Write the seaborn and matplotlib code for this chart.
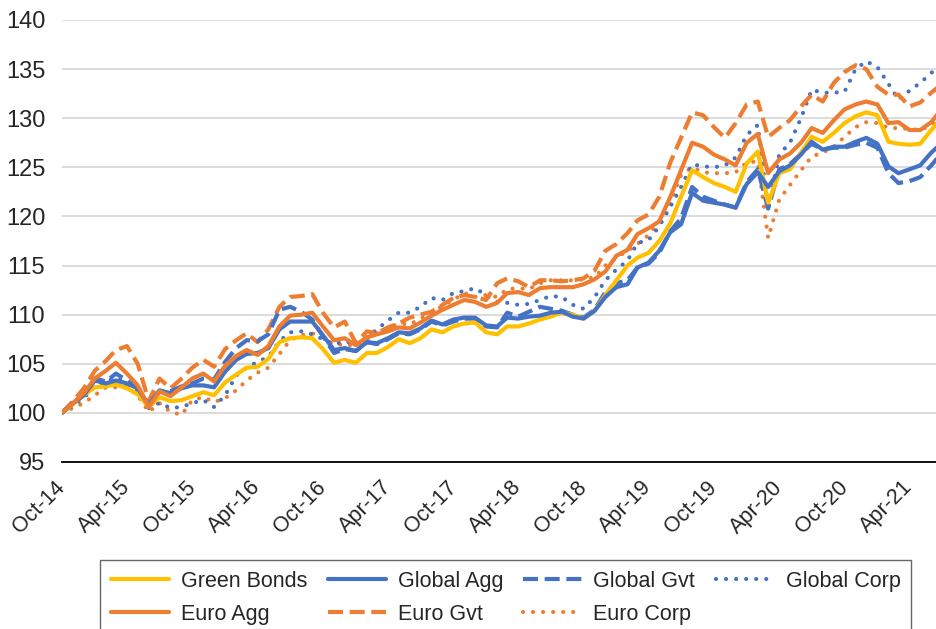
import matplotlib
matplotlib.use("Agg")
import matplotlib.pyplot as plt
import matplotlib.dates as mdates
import pandas as pd
import seaborn as sns

# monthly index levels, Oct-14 = 100
start_month = "2014-10-01"

green_bonds = [100.0, 100.9, 101.8, 102.6, 102.7, 102.9, 102.5, 101.9, 100.6, 101.6,
               101.2, 101.3, 101.7, 102.1, 101.8, 103.1, 103.9, 104.6, 104.7, 105.5,
               107.2, 107.6, 107.7, 107.6, 106.5, 105.1, 105.4, 105.1, 106.1, 106.1,
               106.7, 107.5, 107.1, 107.6, 108.5, 108.2, 108.8, 109.1, 109.2, 108.2,
               108.0, 108.8, 108.8, 109.1, 109.5, 109.8, 110.2, 110.0, 109.6, 110.4,
               112.0, 113.5, 115.0, 115.8, 116.3, 117.5, 119.3, 122.0, 124.7, 124.0,
               123.4, 123.0, 122.5, 125.4, 126.6, 121.4, 124.4, 124.8, 126.5, 128.1,
               127.6, 128.5, 129.5, 130.2, 130.6, 130.3, 127.6, 127.4, 127.3, 127.4,
               128.8, 130.0]

global_agg = [100.0, 101.0, 101.8, 103.3, 103.0, 103.3, 103.0, 102.5, 100.8, 102.3,
              102.0, 102.5, 102.8, 102.8, 102.6, 104.2, 105.4, 106.0, 106.1, 106.6,
              108.5, 109.3, 109.3, 109.3, 107.9, 106.4, 106.6, 106.3, 107.2, 107.1,
              107.6, 108.2, 108.1, 108.6, 109.4, 109.0, 109.5, 109.7, 109.7, 108.9,
              108.8, 109.7, 109.6, 109.8, 109.9, 110.2, 110.3, 109.8, 109.6, 110.4,
              111.8, 112.8, 113.1, 114.8, 115.3, 116.5, 118.4, 119.2, 122.4, 121.6,
              121.4, 121.2, 120.9, 123.3, 124.5, 123.0, 124.6, 125.2, 126.3, 127.6,
              126.8, 127.1, 127.1, 127.6, 128.0, 127.4, 125.1, 124.4, 124.8, 125.2,
              126.5, 127.5]

global_gvt = [100.0, 101.0, 101.8, 103.5, 103.2, 104.0, 103.3, 102.6, 100.5, 102.2,
              102.2, 102.7, 103.0, 103.5, 103.4, 105.2, 106.6, 107.4, 107.3, 108.0,
              110.5, 110.8, 110.3, 109.5, 107.8, 106.1, 106.5, 106.3, 107.2, 107.0,
              107.5, 108.1, 108.0, 108.5, 109.3, 108.9, 109.3, 109.6, 109.6, 108.8,
              108.7, 110.2, 109.8, 110.3, 110.8, 110.6, 110.4, 110.0, 109.7, 110.5,
              112.3, 113.2, 113.5, 114.8, 115.2, 116.3, 118.5, 119.8, 123.0, 122.0,
              121.6, 121.2, 120.9, 123.5, 124.8, 120.8, 124.8, 125.3, 126.4, 127.4,
              126.8, 127.0, 127.0, 127.3, 127.5, 127.0, 124.4, 123.4, 123.6, 124.0,
              125.2, 126.5]

global_corp = [100.0, 100.8, 101.5, 102.8, 103.2, 103.6, 103.0, 102.2, 100.6, 101.0,
               100.5, 100.6, 101.0, 101.3, 100.6, 101.8, 103.8, 104.6, 105.2, 105.7,
               107.3, 108.2, 108.3, 108.0, 107.5, 107.0, 107.3, 107.0, 107.7, 108.5,
               109.4, 110.2, 110.2, 110.8, 111.7, 111.5, 112.2, 112.4, 112.7, 112.0,
               111.3, 111.2, 111.0, 111.1, 111.5, 111.9, 111.8, 111.0, 110.6, 111.8,
               113.5, 114.6, 115.5, 117.3, 117.6, 119.0, 121.0, 123.0, 125.3, 125.1,
               125.0, 125.2, 126.0, 128.3, 129.3, 120.7, 126.3, 127.5, 130.0, 132.9,
               132.6, 132.6, 132.7, 135.0, 135.8, 135.2, 133.5, 131.9, 132.8, 133.6,
               134.6, 135.8]

euro_agg = [100.0, 101.0, 102.0, 103.5, 104.3, 105.1, 104.0, 102.8, 100.6, 102.2,
            101.7, 102.6, 103.5, 104.0, 103.2, 104.8, 105.8, 106.4, 105.9, 106.8,
            108.8, 109.9, 110.0, 110.2, 108.8, 107.4, 107.6, 106.9, 107.7, 108.0,
            108.3, 108.7, 108.6, 109.2, 109.9, 110.5, 111.0, 111.5, 111.3, 110.8,
            111.2, 112.2, 112.3, 112.0, 112.7, 112.8, 112.8, 112.8, 113.1, 113.6,
            114.4, 116.0, 116.6, 118.2, 118.8, 119.5, 122.0, 124.7, 127.5, 127.1,
            126.3, 125.8, 125.2, 127.5, 128.4, 124.4, 125.8, 126.4, 127.5, 129.0,
            128.5, 129.8, 130.9, 131.4, 131.7, 131.4, 129.5, 129.6, 128.8, 128.8,
            129.6, 131.0]

euro_gvt = [100.0, 101.2, 102.5, 104.3, 105.3, 106.4, 106.8, 105.0, 101.2, 103.5,
            102.5, 103.5, 104.6, 105.4, 104.7, 106.5, 107.4, 108.1, 107.2, 108.5,
            110.8, 111.8, 111.9, 112.1, 110.2, 108.7, 109.3, 107.1, 108.3, 108.1,
            108.7, 109.1, 109.7, 110.0, 110.3, 111.0, 111.7, 112.0, 111.8, 111.5,
            113.2, 113.7, 113.4, 112.8, 113.5, 113.5, 113.4, 113.5, 113.7, 114.5,
            116.5, 117.2, 118.3, 119.6, 120.2, 122.0, 125.5, 128.0, 130.6, 130.3,
            129.1, 128.0, 129.5, 131.4, 131.7, 128.1, 129.0, 129.8, 131.2, 132.4,
            131.7, 133.6, 134.7, 135.4, 135.0, 133.2, 132.4, 132.4, 131.2, 131.6,
            132.6, 133.5]

euro_corp = [100.0, 100.5, 101.0, 101.8, 102.6, 102.6, 102.7, 101.8, 100.1, 101.0,
             100.1, 99.8, 101.3, 101.6, 101.1, 101.5, 102.3, 103.3, 104.1, 104.6,
             106.0, 107.4, 107.9, 108.1, 107.7, 106.9, 107.0, 106.8, 107.5, 108.2,
             108.6, 109.1, 109.0, 109.6, 110.2, 110.9, 111.5, 112.2, 111.8, 112.0,
             111.8, 112.6, 112.7, 112.6, 113.2, 113.5, 113.5, 113.5, 113.6, 113.8,
             115.0, 115.8, 116.5, 117.2, 118.1, 119.5, 121.5, 124.2, 125.0, 124.5,
             124.4, 124.4, 124.5, 125.5, 125.6, 117.8, 121.7, 123.2, 124.7, 126.1,
             126.5, 127.1, 128.1, 129.1, 129.6, 129.5, 129.0, 129.0, 128.9, 128.8,
             129.3, 130.0]

dates = pd.date_range(start_month, periods=len(green_bonds), freq="MS")
df = pd.DataFrame({
    "Green Bonds": green_bonds,
    "Global Agg": global_agg,
    "Global Gvt": global_gvt,
    "Global Corp": global_corp,
    "Euro Agg": euro_agg,
    "Euro Gvt": euro_gvt,
    "Euro Corp": euro_corp,
}, index=dates)

yellow = "#FFC000"
blue = "#4472C4"
orange = "#ED7D31"

# name, colour, style  (drawing order: back to front)
styles = [
    ("Euro Corp", orange, "dot"),
    ("Global Corp", blue, "dot"),
    ("Euro Gvt", orange, "dash"),
    ("Global Gvt", blue, "dash"),
    ("Green Bonds", yellow, "solid"),
    ("Global Agg", blue, "solid"),
    ("Euro Agg", orange, "solid"),
]

sns.set_style("white")
plt.rcParams["font.family"] = ["Liberation Sans", "DejaVu Sans"]

fig = plt.figure(figsize=(9.37, 6.29), dpi=100)
ax = fig.add_axes([62 / 937, 1 - 462 / 629, 1 - 62 / 937, (462 - 20) / 629])

handles = {}
for name, color, kind in styles:
    sns.lineplot(x=df.index, y=df[name], ax=ax, color=color, linewidth=3, label=name)
    line = ax.get_lines()[-1]
    if kind == "dash":
        line.set_dashes((3.6, 1.6))
    elif kind == "dot":
        line.set_dashes((0.01, 2.4))
        line.set_dash_capstyle("round")
    handles[name] = line

ax.set_xlim(dates[0], dates[80] + pd.Timedelta(days=16))
ax.set_ylim(95, 140)
ax.set_yticks(range(95, 141, 5))
ax.set_xlabel("")
ax.set_ylabel("")

ax.yaxis.grid(True, color="#D9D9D9", linewidth=1.3)
ax.xaxis.grid(False)
ax.set_axisbelow(True)
for side in ["left", "right", "top"]:
    ax.spines[side].set_visible(False)
ax.spines["bottom"].set_color("black")
ax.spines["bottom"].set_linewidth(1.3)

ax.xaxis.set_major_locator(mdates.MonthLocator(bymonth=(4, 10)))
ax.xaxis.set_major_formatter(mdates.DateFormatter("%b-%y"))
ax.tick_params(axis="x", length=7, width=1.3, color="black", labelsize=15.5, pad=9)
ax.tick_params(axis="y", length=0, labelsize=17, pad=12)
plt.setp(ax.get_xticklabels(), rotation=45, ha="right", va="center",
         rotation_mode="anchor")

# legend: row-wise order in 4 columns (matplotlib fills column-wise)
order = ["Green Bonds", "Euro Agg", "Global Agg", "Euro Gvt",
         "Global Gvt", "Euro Corp", "Global Corp"]
leg = ax.legend([handles[n] for n in order], order,
                ncol=4, loc="upper left",
                bbox_to_anchor=(100 / 937, 1 - 560 / 629),
                bbox_transform=fig.transFigure,
                frameon=True, fancybox=False, fontsize=15.5,
                handlelength=2.7, handletextpad=0.55, columnspacing=0.95,
                labelspacing=0.55, borderpad=0.5, borderaxespad=0)
leg.get_frame().set_edgecolor("#404040")
leg.get_frame().set_linewidth(1.0)

fig.savefig("out.png", dpi=100)
